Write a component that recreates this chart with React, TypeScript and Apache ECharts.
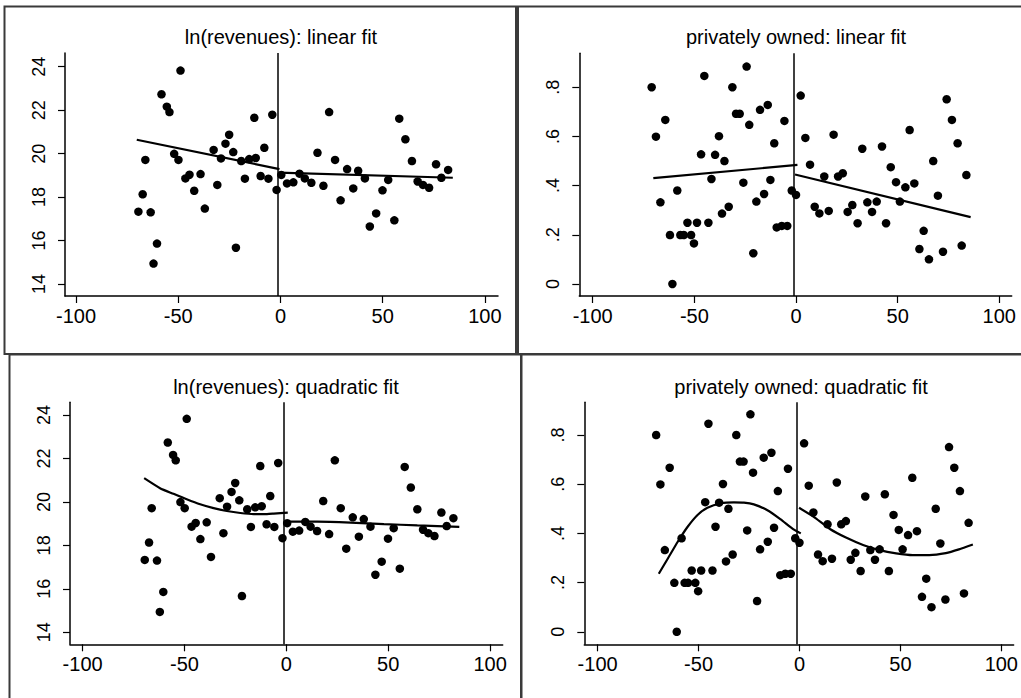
import React, { useEffect, useRef } from "react";
import * as echarts from "echarts";

// Position of the discontinuity drawn as a vertical reference line
const CUTOFF = -1.3;

// Tick values
const X_TICKS = [-100, -50, 0, 50, 100];
const REV_TICKS = [14, 16, 18, 20, 22, 24];
const PRIV_TICKS = [0, 0.2, 0.4, 0.6, 0.8];

// Bin means of ln(revenues) against the running variable
const revenueBins: [number, number][] = [
  [-69.5, 17.33], [-67.4, 18.13], [-66.1, 19.71], [-63.5, 17.3], [-62.1, 14.94],
  [-60.4, 15.86], [-58.2, 22.73], [-55.6, 22.16], [-54.3, 21.91], [-52.0, 19.99],
  [-49.9, 19.71], [-48.9, 23.82], [-46.5, 18.86], [-44.5, 19.03], [-42.2, 18.29],
  [-39.1, 19.06], [-37.0, 17.47], [-32.7, 20.17], [-30.9, 18.56], [-29.1, 19.78],
  [-26.9, 20.46], [-25.1, 20.87], [-23.1, 20.07], [-21.8, 15.67], [-19.2, 19.66],
  [-17.4, 18.85], [-15.3, 19.75], [-12.8, 21.65], [-12.1, 19.8], [-9.7, 18.97],
  [-7.9, 20.27], [-5.9, 18.85], [-4.0, 21.79], [-1.9, 18.33], [0.4, 19.02],
  [3.2, 18.63], [6.3, 18.68], [9.3, 19.08], [11.9, 18.86], [15.1, 18.66],
  [18.1, 20.04], [21.0, 18.52], [23.8, 21.91], [26.7, 19.71], [29.4, 17.85],
  [32.6, 19.29], [35.6, 18.4], [38.0, 19.21], [41.3, 18.86], [43.7, 16.65],
  [46.8, 17.25], [49.9, 18.31], [52.7, 18.79], [55.7, 16.93], [58.1, 21.61],
  [61.1, 20.66], [64.3, 19.66], [67.1, 18.72], [69.7, 18.56], [72.7, 18.43],
  [76.1, 19.51], [78.7, 18.89], [82.0, 19.25],
];

// Bin shares of privately owned firms against the running variable
const privateBins: [number, number][] = [
  [-71.0, 0.8], [-68.9, 0.599], [-66.7, 0.332], [-64.3, 0.667], [-62.0, 0.199],
  [-60.8, 0.0], [-58.4, 0.38], [-56.9, 0.199], [-55.2, 0.199], [-53.4, 0.249],
  [-51.6, 0.199], [-50.2, 0.165], [-48.7, 0.249], [-46.7, 0.527], [-45.1, 0.846],
  [-43.1, 0.249], [-41.6, 0.427], [-39.8, 0.525], [-37.9, 0.601], [-36.4, 0.286],
  [-35.2, 0.5], [-33.1, 0.314], [-31.3, 0.8], [-29.5, 0.692], [-27.7, 0.692],
  [-25.9, 0.412], [-24.3, 0.884], [-23.0, 0.647], [-21.0, 0.125], [-19.5, 0.335],
  [-17.7, 0.708], [-15.7, 0.366], [-13.9, 0.728], [-12.6, 0.423], [-10.7, 0.572],
  [-9.5, 0.23], [-7.0, 0.236], [-5.7, 0.663], [-4.3, 0.236], [-2.1, 0.38],
  [0.0, 0.362], [2.3, 0.766], [4.6, 0.594], [6.9, 0.485], [9.2, 0.314],
  [11.5, 0.287], [13.9, 0.437], [16.1, 0.297], [18.5, 0.607], [20.7, 0.437],
  [23.0, 0.45], [25.4, 0.293], [27.7, 0.321], [30.3, 0.247], [32.6, 0.55],
  [35.1, 0.332], [37.4, 0.293], [39.7, 0.335], [42.3, 0.559], [44.3, 0.247],
  [46.6, 0.475], [49.2, 0.414], [51.1, 0.335], [53.8, 0.393], [55.9, 0.626],
  [58.2, 0.409], [60.7, 0.142], [62.8, 0.216], [65.4, 0.1], [67.5, 0.5],
  [69.8, 0.359], [72.3, 0.131], [74.1, 0.751], [76.7, 0.667], [79.5, 0.572],
  [81.5, 0.156], [83.8, 0.443],
];

// Fitted values on each side of the cutoff
const revLinearLeft: [number, number][] = [[-70.3, 20.64], [-0.5, 19.29]];
const revLinearRight: [number, number][] = [[-1.0, 19.13], [84.3, 18.89]];
const privLinearLeft: [number, number][] = [[-70.2, 0.43], [0.7, 0.484]];
const privLinearRight: [number, number][] = [[-0.5, 0.445], [85.9, 0.272]];

const revQuadLeft: [number, number][] = [
  [-69.8, 21.09], [-62.0, 20.63], [-55.4, 20.37], [-48.9, 20.12], [-42.3, 19.89],
  [-35.7, 19.71], [-29.2, 19.58], [-22.6, 19.49], [-16.1, 19.44], [-9.5, 19.44],
  [-6.2, 19.46], [0.7, 19.51],
];
const revQuadRight: [number, number][] = [
  [0.0, 19.09], [15.1, 19.09], [31.5, 19.05], [47.9, 18.98], [64.3, 18.92], [84.9, 18.85],
];
const privQuadLeft: [number, number][] = [
  [-69.7, 0.236], [-65.2, 0.298], [-60.3, 0.366], [-55.4, 0.427], [-50.5, 0.475],
  [-45.6, 0.504], [-39.0, 0.522], [-32.5, 0.526], [-27.5, 0.525], [-22.6, 0.518],
  [-16.1, 0.495], [-9.5, 0.458], [-2.95, 0.416], [0.66, 0.4],
];
const privQuadRight: [number, number][] = [
  [-0.2, 0.504], [6.9, 0.468], [15.1, 0.418], [23.3, 0.382], [31.5, 0.353],
  [39.7, 0.332], [47.9, 0.319], [56.1, 0.312], [64.3, 0.312], [72.5, 0.32],
  [79.0, 0.335], [85.9, 0.355],
];

const FONT = "'Liberation Sans', Arial, Helvetica, sans-serif";

type Panel = {
  title: string;
  titleX: number;
  titleY: number;
  grid: { left: number; top: number; width: number; height: number };
  xRange: [number, number];
  yRange: [number, number];
  yTicks: number[];
  points: [number, number][];
  fits: [number, number][][];
  smooth: boolean;
};

const panels: Panel[] = [
  {
    title: "ln(revenues): linear fit",
    titleX: 281,
    titleY: 38,
    grid: { left: 65, top: 53, width: 433, height: 243 },
    xRange: [-105.4, 106.4],
    yRange: [13.45, 24.63],
    yTicks: REV_TICKS,
    points: revenueBins,
    fits: [revLinearLeft, revLinearRight],
    smooth: false,
  },
  {
    title: "privately owned: linear fit",
    titleX: 796,
    titleY: 38,
    grid: { left: 579.3, top: 53.3, width: 432.4, height: 242.7 },
    xRange: [-106.6, 106.1],
    yRange: [-0.049, 0.938],
    yTicks: PRIV_TICKS,
    points: privateBins,
    fits: [privLinearLeft, privLinearRight],
    smooth: false,
  },
  {
    title: "ln(revenues): quadratic fit",
    titleX: 286,
    titleY: 388,
    grid: { left: 70, top: 402.3, width: 432.7, height: 242 },
    xRange: [-106.2, 106.2],
    yRange: [13.45, 24.58],
    yTicks: REV_TICKS,
    points: revenueBins,
    fits: [revQuadLeft, revQuadRight],
    smooth: true,
  },
  {
    title: "privately owned: quadratic fit",
    titleX: 801,
    titleY: 388,
    grid: { left: 584.3, top: 402.3, width: 432.4, height: 242 },
    xRange: [-106.6, 106.1],
    yRange: [-0.051, 0.933],
    yTicks: PRIV_TICKS,
    points: privateBins,
    fits: [privQuadLeft, privQuadRight],
    smooth: true,
  },
];

const shareLabel = (v: number) => (v === 0 ? "0" : String(Math.round(v * 10) / 10).replace(/^0/, ""));

function buildOption() {
  const title: any[] = [];
  const grid: any[] = [];
  const xAxis: any[] = [];
  const yAxis: any[] = [];
  const series: any[] = [];

  panels.forEach((p, i) => {
    title.push({
      text: p.title,
      left: p.titleX,
      top: p.titleY - 11.5,
      textAlign: "center",
      padding: 0,
      textStyle: { fontFamily: FONT, fontSize: 20, fontWeight: "normal", color: "#000" },
    });
    grid.push({ ...p.grid });
    xAxis.push({
      type: "value",
      gridIndex: i,
      min: p.xRange[0],
      max: p.xRange[1],
      splitLine: { show: false },
      axisLine: { show: true, onZero: false, lineStyle: { color: "#000", width: 1.5 } },
      axisTick: { show: true, length: 7, customValues: X_TICKS, lineStyle: { color: "#000", width: 1.2 } },
      axisLabel: {
        customValues: X_TICKS,
        margin: 10,
        fontFamily: FONT,
        fontSize: 20,
        color: "#000",
        showMinLabel: true,
        showMaxLabel: true,
      },
    });
    const isShare = p.yTicks === PRIV_TICKS;
    yAxis.push({
      type: "value",
      gridIndex: i,
      min: p.yRange[0],
      max: p.yRange[1],
      splitLine: { show: false },
      axisLine: { show: true, onZero: false, lineStyle: { color: "#000", width: 1.5 } },
      axisTick: { show: true, length: 7, customValues: p.yTicks, lineStyle: { color: "#000", width: 1.2 } },
      axisLabel: {
        customValues: p.yTicks,
        rotate: 90,
        margin: 17,
        fontFamily: FONT,
        fontSize: 18,
        color: "#000",
        formatter: (v: number) => (isShare ? shareLabel(v) : String(v)),
      },
    });
    series.push({
      type: "scatter",
      xAxisIndex: i,
      yAxisIndex: i,
      data: p.points,
      symbol: "circle",
      symbolSize: 8.5,
      itemStyle: { color: "#000", opacity: 1 },
      silent: true,
      markLine: {
        silent: true,
        symbol: "none",
        label: { show: false },
        lineStyle: { color: "#000", width: 1.5, type: "solid" },
        data: [{ xAxis: CUTOFF }],
      },
      z: 3,
    });
    p.fits.forEach((fit) => {
      series.push({
        type: "line",
        xAxisIndex: i,
        yAxisIndex: i,
        data: fit,
        showSymbol: false,
        smooth: p.smooth ? 0.2 : false,
        lineStyle: { color: "#000", width: 2.2 },
        silent: true,
        z: 4,
      });
    });
  });

  // Frames around the four sub-graphs
  const frame = { fill: "none", stroke: "#3a3a3a", lineWidth: 2 };
  const graphic = [
    { type: "rect", shape: { x: 4.5, y: 6.5, width: 511.5, height: 347.5 }, style: frame, silent: true },
    { type: "rect", shape: { x: 518, y: 6.5, width: 510, height: 347.5 }, style: frame, silent: true },
    { type: "rect", shape: { x: 9.5, y: 354.5, width: 511.5, height: 350 }, style: frame, silent: true },
    { type: "rect", shape: { x: 521.5, y: 354.5, width: 510, height: 350 }, style: frame, silent: true },
  ];

  return {
    animation: false,
    backgroundColor: "#fff",
    title,
    grid,
    xAxis,
    yAxis,
    series,
    graphic,
  };
}

export default function App() {
  const ref = useRef<HTMLDivElement>(null);
  useEffect(() => {
    if (!ref.current) return;
    const chart = echarts.init(ref.current, undefined, { renderer: "svg" });
    chart.setOption(buildOption() as any);
    return () => chart.dispose();
  }, []);
  return (
    <div
      ref={ref}
      style={{ position: "fixed", left: 0, top: 0, width: 1021, height: 698, background: "#fff" }}
    />
  );
}
